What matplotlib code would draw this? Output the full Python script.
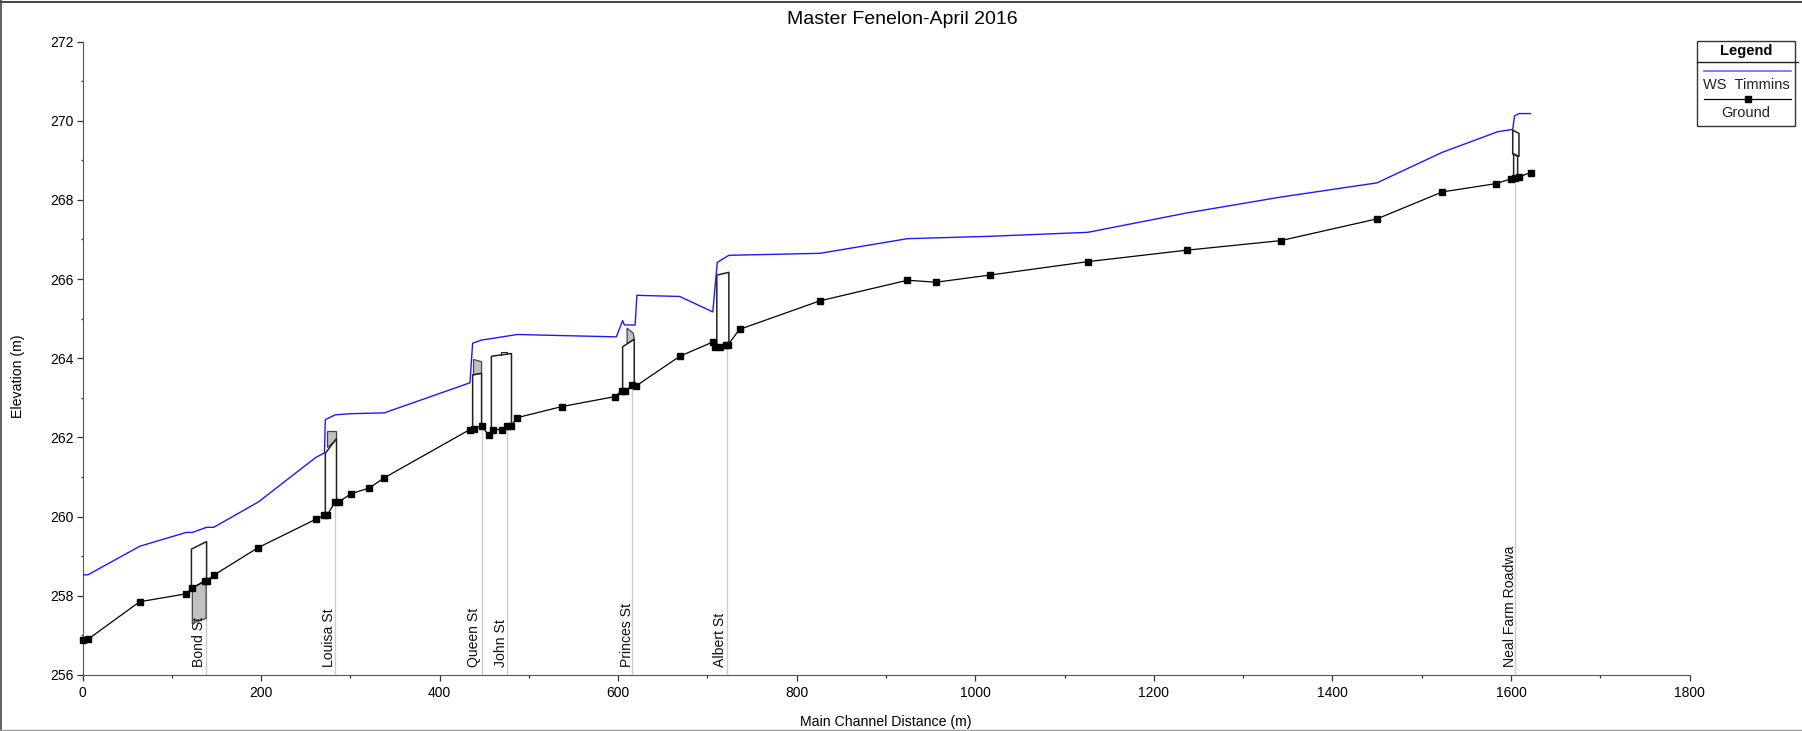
import matplotlib
matplotlib.use('Agg')
import matplotlib.pyplot as plt
from matplotlib.lines import Line2D
from matplotlib.patches import Rectangle

plt.rcParams['font.family'] = ['Liberation Sans', 'DejaVu Sans']

W, H = 1802, 731

ground_x = [0, 6, 64, 116, 123, 137, 139, 147, 197, 261, 271, 274, 283, 287, 301, 321, 338,
            434, 438, 447, 455, 460, 470, 476, 480, 487, 537, 596, 604, 608, 616, 620, 669,
            706, 709, 714, 721, 723, 736, 826, 924, 956, 1016, 1126, 1237, 1342, 1450, 1523,
            1583, 1600, 1604, 1609, 1622]
ground_y = [256.88, 256.9, 257.85, 258.05, 258.2, 258.38, 258.38, 258.52, 259.22, 259.93, 260.04,
            260.04, 260.37, 260.37, 260.58, 260.72, 260.98, 262.2, 262.22, 262.3, 262.05, 262.2,
            262.2, 262.3, 262.3, 262.5, 262.78, 263.03, 263.17, 263.17, 263.33, 263.3, 264.05,
            264.41, 264.28, 264.28, 264.34, 264.34, 264.73, 265.45, 265.97, 265.92, 266.1, 266.44,
            266.73, 266.97, 267.52, 268.2, 268.41, 268.53, 268.55, 268.58, 268.69]

ws_x = [0, 6, 64, 116, 123, 139, 147, 197, 261, 271, 272, 283, 300, 338, 434, 437, 447, 459,
        487, 598, 605, 607, 619, 621, 669, 706, 711, 724, 826, 924, 1016, 1126, 1237, 1342, 1450,
        1523, 1585, 1602, 1604, 1609, 1622]
ws_y = [258.53, 258.53, 259.25, 259.6, 259.6, 259.73, 259.73, 260.37, 261.49, 261.61, 262.45, 262.57,
        262.6, 262.62, 263.38, 264.38, 264.46, 264.5, 264.6, 264.54, 264.95, 264.84, 264.84,
        265.59, 265.56, 265.17, 266.42, 266.6, 266.65, 267.02, 267.08, 267.18, 267.67, 268.07, 268.43,
        269.2, 269.72, 269.78, 270.12, 270.18, 270.18]

# bridge names, station of the grey line, label position
bridge_names = ['Bond St', 'Louisa St', 'Queen St', 'John St', 'Princes St', 'Albert St', 'Neal Farm Roadwa']
bridge_sta = [138, 283, 447, 475, 616, 722, 1605]
bridge_gnd = [258.38, 260.37, 262.3, 262.3, 263.33, 264.33, 268.55]
label_x = [131, 276, 439, 469, 610, 714, 1599]

# deck outlines
deck_x = [[122, 122, 139, 139], [272, 272, 284.5, 284.5], [437, 437, 447, 447], [458, 458, 480.5, 480.5],
          [605, 605, 618, 618], [710.5, 710.5, 724, 724], [1603, 1603, 1607.5, 1607.5]]
deck_y = [[258.2, 259.18, 259.37, 258.38], [260.04, 261.6, 261.97, 260.37], [262.22, 263.58, 263.62, 262.3],
          [262.2, 264.05, 264.12, 262.3], [263.17, 264.29, 264.48, 263.33], [264.28, 266.1, 266.17, 264.34],
          [268.55, 269.15, 269.1, 268.58]]
# upper part of the Neal Farm deck and the cap on John St
neal_x = [1602, 1602, 1609, 1609, 1602]
neal_y = [269.17, 269.76, 269.68, 269.1, 269.17]
john_cap_x = [469, 469, 475, 475]
john_cap_y = [264.09, 264.16, 264.16, 264.11]

# grey filled parts
fill_x = [[123, 123, 138.5, 138.5], [274, 274, 283.5, 283.5], [438, 438, 447, 447], [610, 610, 617, 618]]
fill_y = [[258.2, 257.3, 257.43, 258.38], [261.75, 262.16, 262.16, 261.95],
          [263.58, 263.97, 263.91, 263.62], [264.37, 264.76, 264.63, 264.48]]

fig = plt.figure(figsize=(W / 100, H / 100), dpi=100)
ax = fig.add_axes([82.5 / W, 1 - 675 / H, (1689.5 - 82.5) / W, (675 - 41.5) / H])

for xs, ys in zip(fill_x, fill_y):
    ax.fill(xs, ys, facecolor='#c0c0c0', edgecolor='#444444', lw=0.9, zorder=2)
for xs, ys in zip(deck_x, deck_y):
    ax.plot(xs, ys, color='#222222', lw=1.1, zorder=3)
ax.plot(neal_x, neal_y, color='#222222', lw=1.1, zorder=3)
ax.plot(john_cap_x, john_cap_y, color='#222222', lw=0.8, zorder=3)

for name, sx, gy, lx in zip(bridge_names, bridge_sta, bridge_gnd, label_x):
    ax.plot([sx, sx], [256, gy], color='#cccccc', lw=1.0, zorder=1)
    ax.text(lx, 256.2, name, rotation=90, ha='center', va='bottom', fontsize=10.1, color='#111111', zorder=5)

ax.plot(ws_x, ws_y, color='#1a1aff', lw=1.0, zorder=4)
ax.plot(ground_x, ground_y, color='black', lw=0.9, marker='s', ms=4.2, zorder=4, clip_on=False)

ax.set_xlim(0, 1800)
ax.set_ylim(256, 272)
ax.set_xticks(range(0, 1801, 200))
ax.set_xticks(range(0, 1801, 100), minor=True)
ax.set_yticks(range(256, 273, 2))
ax.set_yticks(range(256, 273, 1), minor=True)
ax.tick_params(axis='both', which='major', length=4, width=0.9, labelsize=10, color='#333333', pad=2.5)
ax.tick_params(axis='both', which='minor', length=1.8, width=0.9, color='#333333')
ax.tick_params(axis='x', which='major', pad=4)
ax.spines['top'].set_visible(False)
ax.spines['right'].set_visible(False)
ax.spines['left'].set_color('#555555')
ax.spines['bottom'].set_color('#555555')
fig.text(886 / W, 1 - 722 / H, 'Main Channel Distance (m)', ha='center', va='center', fontsize=10.2)
fig.text(18 / W, 1 - 376 / H, 'Elevation (m)', ha='center', va='center', rotation=90, fontsize=10.2)
fig.text(902 / W, 1 - 19 / H, 'Master Fenelon-April 2016', ha='center', va='center', fontsize=14)


def fx(p):
    return p / W


def fy(p):
    return 1 - p / H


# legend drawn by hand, boxed like the original
fig.add_artist(Rectangle((fx(1697), fy(126)), 98 / W, 85 / H, transform=fig.transFigure,
                         facecolor='white', edgecolor='#333333', lw=1.0))
fig.add_artist(Line2D([fx(1697), fx(1798)], [fy(62), fy(62)], color='#222222', lw=1.0))
fig.add_artist(Line2D([fx(1704), fx(1791)], [fy(71), fy(71)], color='#5a5aff', lw=1.1))
fig.add_artist(Line2D([fx(1704), fx(1791)], [fy(99), fy(99)], color='black', lw=0.9))
fig.add_artist(Line2D([fx(1747.5)], [fy(99)], color='black', marker='s', ms=4.2))
fig.text(fx(1746), fy(51), 'Legend', ha='center', va='center', fontsize=10.5, fontweight='bold')
fig.text(fx(1746), fy(85), 'WS  Timmins', ha='center', va='center', fontsize=10.5, color='#222222')
fig.text(fx(1746), fy(113), 'Ground', ha='center', va='center', fontsize=10.5, color='#222222')

# outer frame: dark top and left, grey bottom, nothing on the right
fig.add_artist(Line2D([0, 1], [fy(1.5), fy(1.5)], color='#222222', lw=1.2))
fig.add_artist(Line2D([fx(0.8), fx(0.8)], [0, 1], color='#444444', lw=1.2))
fig.add_artist(Line2D([0, 1], [fy(730), fy(730)], color='#999999', lw=1.0))

fig.savefig('out.png', dpi=100)
